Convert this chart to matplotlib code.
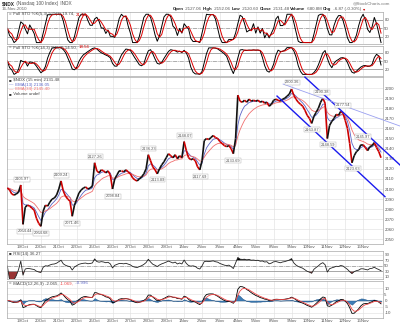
import numpy as np
import pandas as pd
import matplotlib
matplotlib.use('Agg')
import matplotlib.pyplot as plt
from matplotlib.collections import LineCollection

plt.rcParams['font.family'] = ['Liberation Sans Narrow', 'Liberation Sans', 'DejaVu Sans']

# trading days shown on the axis (day index 0 = 19Oct)
day_labels = ['19Oct', '20Oct', '21Oct', '22Oct', '25Oct', '26Oct', '27Oct', '28Oct', '29Oct', '1Nov',
              '2Nov', '3Nov', '4Nov', '5Nov', '8Nov', '9Nov', '10Nov', '11Nov', '12Nov', '15Nov']

# closes, 8 readings per session (~every 49 min)
closes = [
    2101, 2099, 2095, 2094, 2095, 2097, 2104,             # 18Oct (from late morning)
    2065, 2082, 2084, 2083, 2081, 2079, 2071, 2066,       # 19Oct
    2063, 2078, 2084, 2083, 2087, 2090, 2091, 2094,       # 20Oct
    2100, 2108, 2098, 2093, 2090, 2088, 2073, 2084,       # 21Oct
    2090, 2096, 2099, 2101, 2102, 2100, 2101, 2103,       # 22Oct
    2126, 2118, 2116, 2119, 2118, 2116, 2118, 2114,       # 25Oct
    2100, 2110, 2114, 2118, 2118, 2117, 2119, 2117,       # 26Oct
    2115, 2111, 2109, 2108, 2110, 2112, 2115, 2120,       # 27Oct
    2134, 2128, 2122, 2119, 2115, 2120, 2124, 2127,       # 28Oct
    2131, 2135, 2133, 2131, 2134, 2130, 2133, 2131,       # 29Oct
    2147, 2138, 2131, 2129, 2130, 2128, 2122, 2119,       # 1Nov
    2128, 2148, 2150, 2149, 2151, 2153, 2151, 2150,       # 2Nov
    2147, 2145, 2143, 2142, 2143, 2140, 2135, 2150,       # 3Nov
    2193, 2187, 2186, 2188, 2186, 2189, 2187, 2188,       # 4Nov
    2187, 2188, 2186, 2187, 2185, 2186, 2182, 2184,       # 5Nov
    2188, 2189, 2188, 2187, 2189, 2190, 2192, 2194,       # 8Nov
    2199, 2193, 2189, 2186, 2184, 2182, 2178, 2173,       # 9Nov
    2170, 2165, 2172, 2176, 2180, 2186, 2190, 2185,       # 10Nov
    2150, 2163, 2167, 2170, 2174, 2173, 2177, 2175,       # 11Nov
    2168, 2160, 2145, 2126, 2133, 2137, 2139, 2144,       # 12Nov
    2144, 2141, 2138, 2142, 2143, 2146, 2141, 2137,       # 15Nov
    2131,                                                 # 16Nov
]

# swing labels: (day index, price, text, above?)
swing_t = [-0.06, 0.11, 1.0, 2.15, 2.74, 4.05, 5.03, 7.02, 7.52, 9.03, 9.9, 11.73,
           15.05, 16.7, 16.15, 17.88, 17.04, 19.0, 18.42]
swing_p = [2104, 2064, 2062, 2108, 2072, 2126, 2099, 2134, 2115, 2147, 2118, 2134,
           2200, 2190, 2165, 2177, 2150, 2146, 2126]
swing_txt = ['2105.97', '2064.44', '2064.68', '2109.24', '2071.46', '2127.26', '2098.84',
             '2136.23', '2113.89', '2148.07', '2117.69', '2133.69', '2200.36', '2190.38',
             '2163.87', '2177.54', '2148.59', '2145.97', '2123.63']
swing_up = [True, False, False, True, False, True, False, True, False, True, False, False,
            True, True, False, True, False, True, False]

# hand-drawn trend lines: (day index, price) end points
upper_line = [(15.75, 2210.9), (21.06, 2123.8)]
lower_line = [(14.19, 2192.1), (20.22, 2092.4)]
light_line = [(14.53, 2204.0), (21.06, 2162.4)]

price_ticks = list(range(2050, 2201, 10))

# ---- indicators ----
close = pd.Series(closes, dtype=float)
t = -0.875 + 0.125 * np.arange(len(closes))
ema13 = close.ewm(span=4, adjust=False).mean()
ema34 = close.ewm(span=10, adjust=False).mean()


def full_sto(s, n, k_smooth, d_smooth):
    lo = s.rolling(n, min_periods=1).min()
    hi = s.rolling(n, min_periods=1).max()
    fast = 100 * (s - lo) / (hi - lo).replace(0, np.nan)
    fast = fast.fillna(50)
    k = fast.rolling(k_smooth, min_periods=1).mean()
    d = k.rolling(d_smooth, min_periods=1).mean()
    return k, d


sto1_k, sto1_d = full_sto(close, 4, 3, 3)
sto2_k, sto2_d = full_sto(close, 12, 3, 3)

delta = close.diff().fillna(0)
gain = delta.clip(lower=0).ewm(alpha=1 / 10, adjust=False).mean()
loss = (-delta.clip(upper=0)).ewm(alpha=1 / 10, adjust=False).mean()
rsi = 100 - 100 / (1 + gain / loss.replace(0, np.nan))
rsi = rsi.fillna(50)

macd = close.ewm(span=4, adjust=False).mean() - close.ewm(span=8, adjust=False).mean()
signal = macd.ewm(span=3, adjust=False).mean()
hist = macd - signal

# ---- layout ----
fig = plt.figure(figsize=(4.0, 3.23), dpi=100)
FW, FH = 400, 323
L, W = 7 / FW, 376 / FW
XL = (-0.894, 20.11)
FS = 3.2
GRID = '#e2e2e2'


def panel(top, bottom):
    return fig.add_axes([L, 1 - bottom / FH, W, (bottom - top) / FH])


def style(ax, yticks, ylim, show_dates=False):
    ax.set_xlim(*XL)
    ax.set_ylim(*ylim)
    for s in ax.spines.values():
        s.set_color('#a8a8a8')
        s.set_linewidth(0.5)
    ax.yaxis.tick_right()
    ax.set_yticks(yticks)
    ax.set_yticklabels([str(v) for v in yticks], fontsize=FS, color='#555555')
    ax.set_xticks(range(len(day_labels)))
    if show_dates:
        ax.set_xticklabels(day_labels, fontsize=FS, color='#555555')
    else:
        ax.set_xticklabels([])
    ax.tick_params(length=0, pad=1)
    ax.grid(True, color=GRID, linewidth=0.45)
    ax.set_axisbelow(True)


def chain(x, y, pieces, fs=FS):
    # consecutive text pieces on one line, x/y in image pixels from top-left
    r = fig.canvas.get_renderer()
    for txt, col, wt in pieces:
        tx = fig.text(x / FW, 1 - y / FH, txt, fontsize=fs, color=col, weight=wt,
                      va='center', ha='left')
        bb = tx.get_window_extent(renderer=r)
        x = bb.x1 + 0.4


# stochastic panels
ax1 = panel(12, 44)
style(ax1, [20, 50, 80], (-5, 108))
ax2 = panel(46, 76)
style(ax2, [20, 50, 80], (-6, 106))
for ax, k, d in [(ax1, sto1_k, sto1_d), (ax2, sto2_k, sto2_d)]:
    for lvl in (20, 80):
        ax.axhline(lvl, color='#8c8c8c', lw=0.5)
    ax.axhline(50, color='#8c8c8c', lw=0.45, ls='-.')
    ax.plot(t, k, color='black', lw=0.7)
    ax.plot(t, d, color='#dd0000', lw=0.7)

# price panel
axp = panel(77, 244)
style(axp, price_ticks, (2045.5, 2211), show_dates=True)
pts = np.column_stack([t, close.values])
segs = np.stack([pts[:-1], pts[1:]], axis=1)
seg_cols = np.where(np.diff(close.values) < 0, '#cc0000', '#111111')
axp.add_collection(LineCollection(segs, colors=seg_cols, linewidths=1.2, zorder=4))
axp.plot(t, ema13, color='#5a64c8', lw=0.6, zorder=3)
axp.plot(t, ema34, color='#f07070', lw=0.6, zorder=3)
for line, col, lw in [(upper_line, '#1a1aee', 1.0), (lower_line, '#1a1aee', 1.0),
                      (light_line, '#9aa0f0', 0.6)]:
    xs, ys = zip(*line)
    axp.plot(xs, ys, color=col, lw=lw, clip_on=False, zorder=5)
for st, sp, stx, up in zip(swing_t, swing_p, swing_txt, swing_up):
    axp.annotate(stx, (st, sp), xytext=(0, 4.2 if up else -4.4), textcoords='offset points',
                 ha='center', va='center', fontsize=2.9, color='#555555', zorder=6,
                 bbox=dict(boxstyle='square,pad=0.12', fc='white', ec='#b8b8b8', lw=0.35))

# RSI panel
axr = panel(251, 279)
style(axr, [10, 30, 50, 70, 90], (2.7, 104.5))
for lvl in (30, 70):
    axr.axhline(lvl, color='#8c8c8c', lw=0.5)
axr.axhline(50, color='#8c8c8c', lw=0.45, ls='-.')
axr.fill_between(t, 70, rsi, where=rsi > 70, color='black', lw=0, interpolate=True)
axr.fill_between(t, 30, rsi, where=rsi < 30, color='#993333', lw=0, interpolate=True)
axr.plot(t, rsi, color='#222222', lw=0.6)

# MACD panel
axm = panel(281, 318)
style(axm, [-10, -5, 0, 5, 10], (-14, 15.6), show_dates=True)
axm.fill_between(t, 0, hist, color='#3f7fb8', lw=0.3, edgecolor='#1f4f80')
axm.plot(t, macd, color='black', lw=0.6)
axm.plot(t, signal, color='#ee4444', lw=0.6)

# header texts
chain(2, 3.5, [('$NDX', '#222222', 'bold'), (' (Nasdaq 100 Index)', '#555555', 'normal'),
               (' INDX', '#555555', 'normal')], fs=3.4)
chain(2, 9, [('16-Nov-2010', '#666666', 'normal')])
chain(173, 9, [('Open', '#222222', 'bold'), (' 2127.06 ', '#555555', 'normal'),
               ('High', '#222222', 'bold'), (' 2152.06 ', '#555555', 'normal'),
               ('Low', '#222222', 'bold'), (' 2120.60 ', '#555555', 'normal'),
               ('Close', '#222222', 'bold'), (' 2131.48 ', '#555555', 'normal'),
               ('Volume', '#222222', 'bold'), (' 680.8M ', '#555555', 'normal'),
               ('Chg', '#222222', 'bold'), (' -6.87 (-0.30%) ', '#555555', 'normal'),
               ('\u25be', '#cc0000', 'normal')])
chain(353, 3.5, [('@StockCharts.com', '#777777', 'normal')])

# panel legends
chain(9, 14.5, [('=', '#333333', 'normal'), (' Full STO %K(5,3) %D(3) 19.74, ', '#444444', 'normal'),
                ('21.43', '#dd0000', 'normal')])
chain(9, 47.5, [('=', '#333333', 'normal'), (' Full STO %K(14,3) %D(3) 14.50, ', '#444444', 'normal'),
                ('18.56', '#dd0000', 'normal')])
chain(9, 80, [('\u25a0', '#333333', 'normal'), (' $NDX (15 min) 2131.48', '#444444', 'normal')])
chain(9, 84.7, [('\u2014', '#5a64c8', 'normal'), (' EMA(13) 2136.05', '#5a64c8', 'normal')])
chain(9, 89.4, [('\u2014', '#f07070', 'normal'), (' EMA(34) 2145.40', '#f07070', 'normal')])
chain(9, 94, [('\u25a0', '#333333', 'normal'), (' Volume undef', '#444444', 'normal')])
chain(9, 253.5, [('\u25a0', '#333333', 'normal'), (' RSI(14) 36.27', '#444444', 'normal')])
chain(9, 283.5, [('=', '#333333', 'normal'), (' MACD(12,26,9) -2.065, ', '#444444', 'normal'),
                 ('-1.069,', '#ee4444', 'normal'), (' -0.996', '#5a64c8', 'normal')])

fig.savefig('out.png', dpi=100, facecolor='white')
